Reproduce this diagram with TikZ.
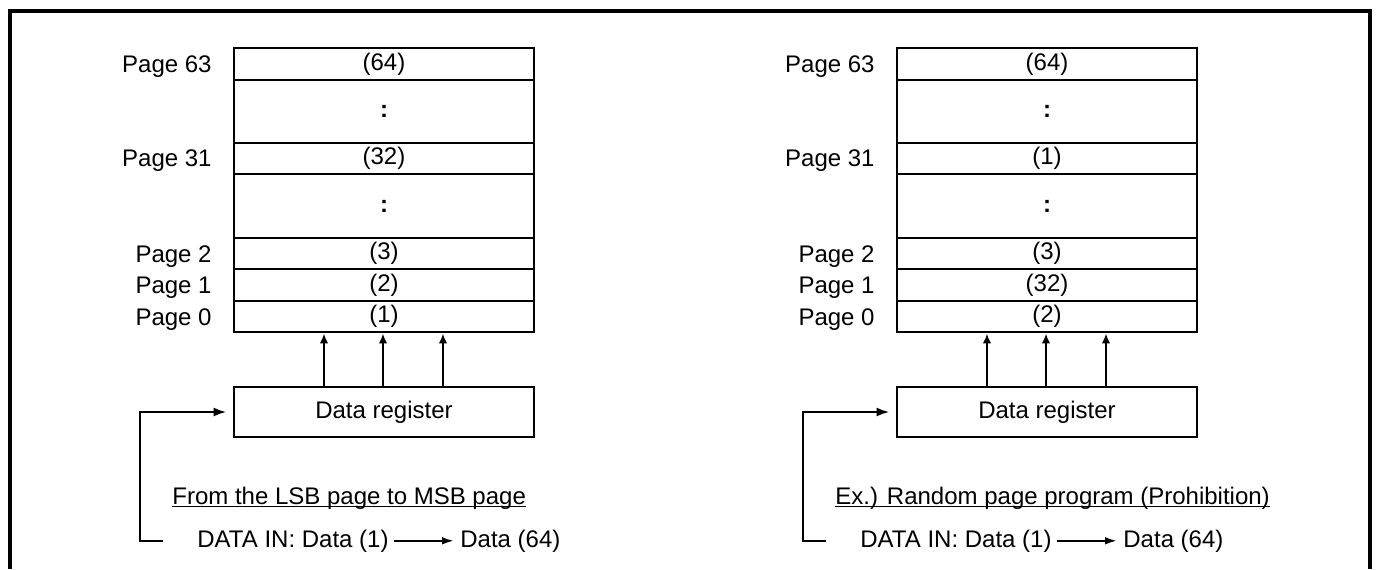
\documentclass[tikz,border=0pt]{standalone}
\usepackage{fontspec}
\setmainfont{Liberation Sans}
\usetikzlibrary{arrows.meta,calc}
\begin{document}
\begin{tikzpicture}[x=0.5pt,y=-0.5pt,
  every node/.style={font=\fontsize{12pt}{14pt}\selectfont, inner sep=0pt},
  cell/.style={draw, line width=1.4pt, minimum width=150pt},
  regbox/.style={draw, line width=1.4pt, minimum width=150pt, minimum height=25pt},
  lbl/.style={anchor=base east},
  upar/.style={-{Latex[length=5pt,width=4.2pt]}, line width=1.2pt},
  feed/.style={-{Latex[length=6.5pt,width=4.5pt]}, line width=1.2pt},
  flow/.style={-{Latex[length=6pt,width=3.8pt]}, line width=1pt},
  uline/.style={line width=0.8pt},
  frameline/.style={line width=1.6pt}
]
\useasboundingbox (0,0) rectangle (1377,569);
\draw[frameline] (10,569) -- (10,11) -- (1370,11) -- (1370,569);

% ---------------- left panel ----------------
\node[cell, minimum height=16pt]   (La) at (384,64)    {(64)};
\node[cell, minimum height=31.5pt] (Lb) at (384,111.5) {\textbf{:}};
\node[cell, minimum height=15.5pt] (Lc) at (384,158.5) {(32)};
\node[cell, minimum height=32pt]   (Ld) at (384,206)   {\textbf{:}};
\node[cell, minimum height=15.5pt] (Le) at (384,253.5) {(3)};
\node[cell, minimum height=16pt]   (Lf) at (384,285)   {(2)};
\node[cell, minimum height=15.5pt] (Lg) at (384,316.5) {(1)};

\node[lbl] (Lp63) at (212,72)  {Page 63};
\node[lbl] (Lp31) at (212,166) {Page 31};
\node[lbl] (Lp2)  at (212,262) {Page 2};
\node[lbl] (Lp1)  at (212,293) {Page 1};
\node[lbl] (Lp0)  at (212,325) {Page 0};

\node[regbox] (Lreg) at (384,412) {Data register};
\foreach \dx in {-30,-0.5,29.5}
  \draw[upar] ([xshift=\dx pt]Lreg.north) -- ([xshift=\dx pt]Lg.south);

\node[anchor=base west] (Lnote) at (172,504) {From the LSB page to MSB page};
\draw[uline] ([yshift=-1.25pt]Lnote.base west) -- ([yshift=-1.25pt]Lnote.base east);

\node[anchor=base west] (Ldi) at (197,547) {DATA IN: Data (1)};
\node[anchor=base west] (Ldo) at (460,547) {Data (64)};
\draw[flow] ([xshift=2.5pt]Ldi.east) -- ([xshift=-3pt]Ldo.west);

\coordinate (Lin) at (163,541);
\draw[feed] (Lin) -- (140,541) |- ([xshift=-3pt]Lreg.west);

% ---------------- right panel ----------------
\begin{scope}[xshift=331.5pt]
\node[cell, minimum height=16pt]   (Ra) at (384,64)    {(64)};
\node[cell, minimum height=31.5pt] (Rb) at (384,111.5) {\textbf{:}};
\node[cell, minimum height=15.5pt] (Rc) at (384,158.5) {(1)};
\node[cell, minimum height=32pt]   (Rd) at (384,206)   {\textbf{:}};
\node[cell, minimum height=15.5pt] (Re) at (384,253.5) {(3)};
\node[cell, minimum height=16pt]   (Rf) at (384,285)   {(32)};
\node[cell, minimum height=15.5pt] (Rg) at (384,316.5) {(2)};

\node[lbl] (Rp63) at (212,72)  {Page 63};
\node[lbl] (Rp31) at (212,166) {Page 31};
\node[lbl] (Rp2)  at (212,262) {Page 2};
\node[lbl] (Rp1)  at (212,293) {Page 1};
\node[lbl] (Rp0)  at (212,325) {Page 0};

\node[regbox] (Rreg) at (384,412) {Data register};
\foreach \dx in {-30,-0.5,29.5}
  \draw[upar] ([xshift=\dx pt]Rreg.north) -- ([xshift=\dx pt]Rg.south);

\node[anchor=base west] (Rnote) at (172,504) {Ex.) Random page program (Prohibition)};
\draw[uline] ([yshift=-1.25pt]Rnote.base west) -- ([yshift=-1.25pt]Rnote.base east);

\node[anchor=base west] (Rdi) at (197,547) {DATA IN: Data (1)};
\node[anchor=base west] (Rdo) at (460,547) {Data (64)};
\draw[flow] ([xshift=2.5pt]Rdi.east) -- ([xshift=-3pt]Rdo.west);

\coordinate (Rin) at (163,541);
\draw[feed] (Rin) -- (140,541) |- ([xshift=-3pt]Rreg.west);
\end{scope}
\end{tikzpicture}
\end{document}
